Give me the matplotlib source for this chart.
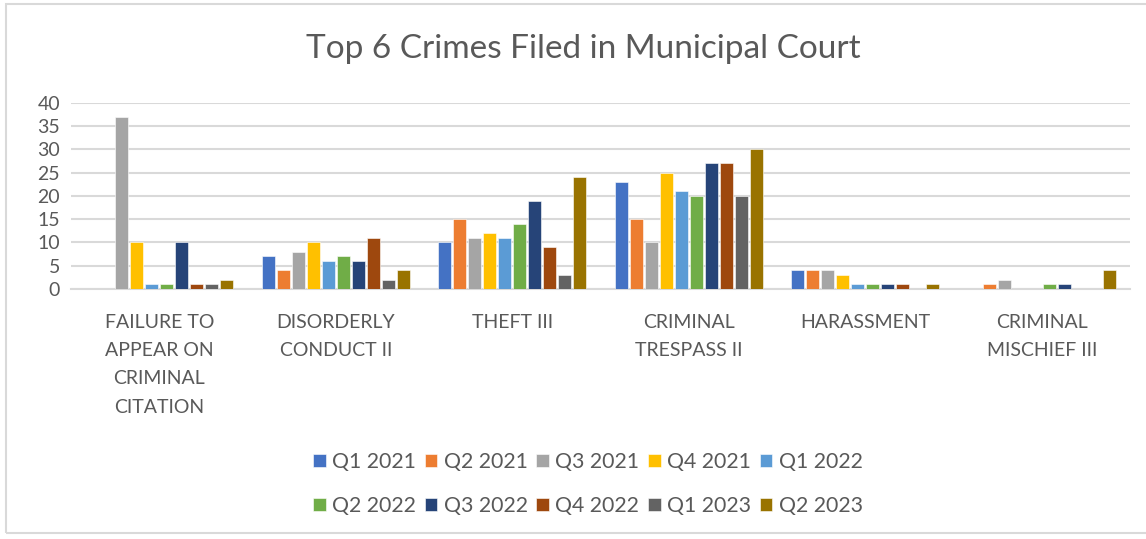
import matplotlib.pyplot as plt
import numpy as np
from matplotlib.patches import Rectangle

plt.rcParams['font.family'] = ['Lato', 'DejaVu Sans']

categories = ["FAILURE TO\nAPPEAR ON\nCRIMINAL\nCITATION", "DISORDERLY\nCONDUCT II", "THEFT III",
              "CRIMINAL\nTRESPASS II", "HARASSMENT", "CRIMINAL\nMISCHIEF III"]
quarters = ["Q1 2021", "Q2 2021", "Q3 2021", "Q4 2021", "Q1 2022",
            "Q2 2022", "Q3 2022", "Q4 2022", "Q1 2023", "Q2 2023"]
q1_2021 = [0, 7, 10, 23, 4, 0]
q2_2021 = [0, 4, 15, 15, 4, 1]
q3_2021 = [37, 8, 11, 10, 4, 2]
q4_2021 = [10, 10, 12, 25, 3, 0]
q1_2022 = [1, 6, 11, 21, 1, 0]
q2_2022 = [1, 7, 14, 20, 1, 1]
q3_2022 = [10, 6, 19, 27, 1, 1]
q4_2022 = [1, 11, 9, 27, 1, 0]
q1_2023 = [1, 2, 3, 20, 0, 0]
q2_2023 = [2, 4, 24, 30, 1, 4]
series = [q1_2021, q2_2021, q3_2021, q4_2021, q1_2022,
          q2_2022, q3_2022, q4_2022, q1_2023, q2_2023]
colors = ["#4472C4", "#ED7D31", "#A5A5A5", "#FFC000", "#5B9BD5",
          "#70AD47", "#264478", "#9E480E", "#636363", "#997300"]

txt = "#595959"
fig = plt.figure(figsize=(11.46, 5.39), dpi=100)
ax = fig.add_axes([0.062, 0.464, 0.924, 0.345])

x = np.arange(len(categories))
step = 0.085
bars = []
for i, (vals, c) in enumerate(zip(series, colors)):
    b = ax.bar(x + (i - 4.5) * step, vals, width=step * 0.84, color=c,
               label=quarters[i], zorder=3, edgecolor='white', linewidth=0.4)
    bars.append(b)

ax.set_xlim(-0.5, 5.5)
ax.set_ylim(0, 40)
ax.set_yticks(range(0, 41, 5))
ax.grid(axis='y', color='#D9D9D9', linewidth=1.5, zorder=0)
for s in ['top', 'right', 'left']:
    ax.spines[s].set_visible(False)
ax.spines['bottom'].set_color('#D9D9D9')
ax.spines['bottom'].set_linewidth(1.5)
ax.set_xticks(x)
ax.set_xticklabels(categories, linespacing=1.8)
ax.tick_params(axis='x', length=0, pad=18, labelsize=14, labelcolor=txt)
ax.tick_params(axis='y', length=0, pad=8, labelsize=14, labelcolor=txt)

fig.text(0.509, 0.91, "Top 6 Crimes Filed in Municipal Court", ha='center', va='center',
         fontsize=24, color=txt)

# legend fills row by row in the original
order = [0, 5, 1, 6, 2, 7, 3, 8, 4, 9]
fig.legend([bars[i] for i in order], [quarters[i] for i in order],
           loc='center', bbox_to_anchor=(0.513, 0.102), ncol=5, frameon=False,
           fontsize=15.3, labelcolor=txt, handlelength=0.6, handleheight=0.6,
           handletextpad=0.3, columnspacing=0.4, labelspacing=1.15)

fig.patches.append(Rectangle((6 / 1146, 6 / 539), 1.0, 1 - 10 / 539, transform=fig.transFigure,
                             fill=False, edgecolor='#D9D9D9', linewidth=1.5))

fig.savefig("out.png", dpi=100)
